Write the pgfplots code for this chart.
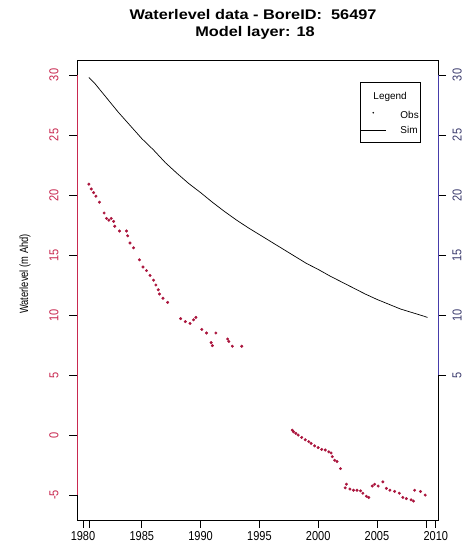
\documentclass[border=0pt]{standalone}
\usepackage{fontspec}
\setmainfont{Liberation Sans}
\usepackage{pgfplots}
\pgfplotsset{compat=1.18}
\definecolor{axred}{RGB}{200,40,80}
\definecolor{obsred}{RGB}{170,20,60}
\definecolor{axblue}{RGB}{70,60,170}
\definecolor{lblblue}{RGB}{60,60,110}
\newcommand{\tl}[1]{\scalebox{0.85}[1]{#1}}
\pgfplotstableread{
x y
1980.5 20.9
1980.7 20.5
1980.9 20.2
1981.1 19.9
1981.4 19.4
1981.8 18.5
1982.0 18.05
1982.2 17.9
1982.4 18.05
1982.6 17.8
1982.7 17.4
1983.1 17.0
1983.7 17.0
1983.8 16.6
1984.0 16.0
1984.3 15.6
1984.8 14.6
1985.1 14.0
1985.4 13.7
1985.7 13.3
1986.0 12.9
1986.2 12.5
1986.4 12.1
1986.5 11.75
1986.8 11.4
1987.2 11.05
1988.3 9.7
1988.7 9.45
1989.1 9.3
1989.4 9.6
1989.6 9.8
1990.1 8.8
1990.5 8.5
1991.3 8.5
1990.9 7.7
1991.0 7.45
1992.3 8.0
1992.4 7.8
1992.7 7.4
1993.5 7.4
1997.8 0.4
1997.9 0.27
1998.1 0.14
1998.3 0.0
1998.6 -0.2
1998.9 -0.4
1999.2 -0.55
1999.4 -0.7
1999.7 -0.9
2000.0 -1.05
2000.3 -1.2
2000.6 -1.25
2000.9 -1.4
2001.1 -1.5
2001.2 -1.8
2001.4 -2.1
2001.6 -2.2
2001.9 -2.8
2002.3 -4.4
2002.4 -4.1
2002.7 -4.5
2003.0 -4.6
2003.3 -4.6
2003.6 -4.65
2003.8 -4.85
2004.1 -5.1
2004.3 -5.2
2004.6 -4.25
2004.8 -4.1
2005.1 -4.25
2005.5 -3.9
2005.8 -4.45
2006.1 -4.6
2006.5 -4.7
2006.9 -4.85
2007.2 -5.2
2007.5 -5.3
2007.9 -5.4
2008.1 -5.5
2008.2 -4.6
2008.7 -4.7
2009.1 -5.0
}\obsdata
\pgfplotstableread{
x y
1980.5 29.8
1981 29.3
1982 28.1
1983 26.9
1984 25.8
1985 24.7
1986 23.75
1987 22.7
1988 21.8
1989 20.95
1990 20.2
1991 19.4
1992 18.65
1993 17.95
1994 17.3
1995 16.7
1996 16.1
1997 15.5
1998 14.9
1999 14.3
2000 13.8
2001 13.25
2002 12.75
2003 12.25
2004 11.75
2005 11.3
2006 10.9
2007 10.5
2008 10.2
2009 9.9
2009.3 9.8
}\simdata
\begin{document}
\begin{tikzpicture}[x=1bp,y=1bp]
\useasboundingbox (0,0) rectangle (472,556);
\node[font=\fontsize{14}{16}\selectfont\bfseries, inner sep=0] at (253,541) {\scalebox{1.17}[1]{Waterlevel data - BoreID:\ \ 56497}};
\node[font=\fontsize{14}{16}\selectfont\bfseries, inner sep=0] at (255,523) {\scalebox{1.17}[1]{Model layer: 18}};
\node[font=\fontsize{12}{14}\selectfont, rotate=90, inner sep=0] at (25,282) {\scalebox{0.78}[1]{Waterlevel (m Ahd)}};
\begin{axis}[
  at={(77bp,36bp)}, anchor=south west, scale only axis,
  width=361bp, height=460bp,
  xmin=1979.49, xmax=2010.19, ymin=-7.08, ymax=31.25,
  axis line style={draw=none},
  tick align=outside, major tick length=8bp,
  xtick pos=left, ytick pos=left,
  tick style={black, line width=0.6bp},
  xtick={1980,1985,1990,1995,2000,2005,2010},
  xticklabels={\tl{1980},\tl{1985},\tl{1990},\tl{1995},\tl{2000},\tl{2005},\tl{2010}},
  extra x ticks={1980.5,2009.2}, extra x tick labels={},
  extra x tick style={tick align=outside, major tick length=8bp, xtick pos=left, tick style={black, line width=0.6bp}},
  ytick={-5,0,5,10,15,20,25,30},
  yticklabels={\tl{-5},\tl{0},\tl{5},\tl{10},\tl{15},\tl{20},\tl{25},\tl{30}},
  ticklabel style={font=\fontsize{13}{15}\selectfont},
  yticklabel style={rotate=90, anchor=south, text=axred, yshift=7bp},
  legend style={at={(rel axis cs:0.953,0.952)}, anchor=north east, draw=black, line width=0.6bp, fill=white,
    font=\fontsize{10}{11}\selectfont, inner xsep=0bp, inner ysep=6bp, row sep=2bp, cells={anchor=west}},
  clip=false,
]
\addplot[only marks, mark=*, mark size=1.3bp, color=obsred, forget plot] table[x=x,y=y] {\obsdata};
\addplot[black, line width=0.7bp, forget plot] table[x=x,y=y] {\simdata};
\draw[black, line width=0.8bp] (rel axis cs:0,0) rectangle (rel axis cs:1,1);
\draw[axred, line width=0.9bp] (axis cs:1979.49,-5) -- (axis cs:1979.49,30);
\addlegendimage{legend image code/.code={\node[overlay, draw=none, fill=none, text=black, inner sep=0, anchor=west] at (13bp,2bp) {Legend}; \path[draw=none] (0,-9bp) -- (26bp,10bp);}}
\addlegendentry{}
\addlegendimage{legend image code/.code={\fill[black, draw=none] (13bp,3bp) circle (0.9bp); \path[draw=none] (0,0) -- (26bp,0);}}
\addlegendentry{\hspace{12bp}Obs\hspace{6bp}}
\addlegendimage{legend image code/.code={\draw[black, line width=0.6bp] (0,0) -- (26bp,0);}}
\addlegendentry{\hspace{12bp}Sim\hspace{6bp}}
\end{axis}
\begin{axis}[
  at={(77bp,36bp)}, anchor=south west, scale only axis,
  width=361bp, height=460bp,
  xmin=1979.49, xmax=2010.19, ymin=-7.08, ymax=31.25,
  axis x line=none, axis y line*=right,
  axis line style={draw=none},
  tick align=outside, major tick length=8bp,
  tick style={black, line width=0.6bp},
  ytick={5,10,15,20,25,30},
  yticklabels={\tl{5},\tl{10},\tl{15},\tl{20},\tl{25},\tl{30}},
  ticklabel style={font=\fontsize{13}{15}\selectfont},
  yticklabel style={rotate=90, anchor=north, text=lblblue, yshift=-3bp},
  clip=false,
]
\draw[axblue, line width=0.9bp] (axis cs:2010.19,5) -- (axis cs:2010.19,30);
\end{axis}
\end{tikzpicture}
\end{document}
